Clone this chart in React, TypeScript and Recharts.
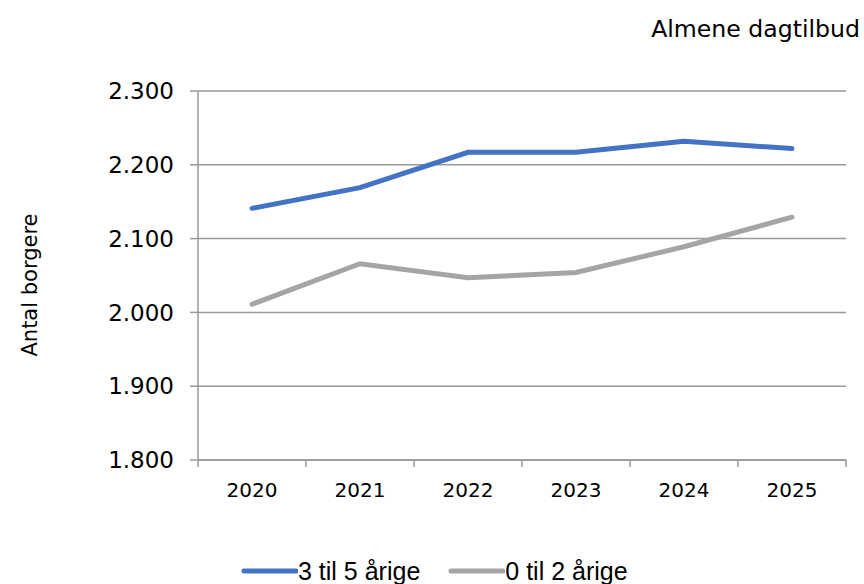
import React from 'react';
import { LineChart, Line, XAxis, YAxis, CartesianGrid } from 'recharts';

const years = ['2020', '2021', '2022', '2023', '2024', '2025'];
const age3to5 = [2141, 2169, 2217, 2217, 2232, 2222];
const age0to2 = [2011, 2066, 2047, 2054, 2089, 2129];
const yTicks = [1800, 1900, 2000, 2100, 2200, 2300];

const seriesNames = ['3 til 5 årige', '0 til 2 årige'];
const colors = ['#4472C4', '#A5A5A5'];

const CHART_W = 864;
const LEFT = 198;
const RIGHT = 18;
const halfBand = (CHART_W - LEFT - RIGHT) / years.length / 2;

// category index centred in its band: category i occupies [i, i+1]
const data = years.map((y, i) => ({ pos: i + 0.5, year: y, a: age3to5[i], b: age0to2[i] }));
const boundaryTicks = years.map((_, i) => i).concat([years.length]);

const fmt = (v: number) => {
  const s = String(v);
  return s.length > 3 ? s.slice(0, s.length - 3) + '.' + s.slice(s.length - 3) : s;
};

const YearTick = (props: any) => {
  const { x, y, payload } = props;
  const label = years[payload.value];
  if (!label) return null;
  return (
    <text x={x + halfBand} y={y} dy="0.71em" textAnchor="middle" fontFamily="DejaVu Sans, sans-serif" fontSize={20} fill="#000">
      {label}
    </text>
  );
};

export default function App() {
  return (
    <div style={{ position: 'absolute', left: 0, top: 0, width: 864, height: 584, background: '#fff' }}>
      <div style={{ position: 'absolute', right: 4, top: 15, fontFamily: 'DejaVu Sans, sans-serif', fontSize: 23.6, color: '#000', whiteSpace: 'nowrap' }}>
        Almene dagtilbud
      </div>
      <div style={{ position: 'absolute', left: 30, top: 285, transform: 'translate(-50%, -50%) rotate(-90deg)', fontFamily: 'DejaVu Sans, sans-serif', fontSize: 21, color: '#000', whiteSpace: 'nowrap' }}>
        Antal borgere
      </div>
      <LineChart width={CHART_W} height={584} data={data} margin={{ top: 91, right: RIGHT, bottom: 84, left: 0 }}>
        <CartesianGrid vertical={false} stroke="#999" strokeWidth={1.5} />
        <XAxis dataKey="pos" type="number" domain={[0, years.length]} ticks={boundaryTicks} interval={0}
          tick={<YearTick />} axisLine={{ stroke: '#999', strokeWidth: 1.5 }}
          tickLine={{ stroke: '#999', strokeWidth: 1.5 }} tickSize={7} tickMargin={16} height={40} />
        <YAxis domain={[1800, 2300]} ticks={yTicks} tickFormatter={fmt} width={LEFT}
          axisLine={{ stroke: '#999', strokeWidth: 1.5 }} tickLine={{ stroke: '#999', strokeWidth: 1.5 }} tickSize={8} tickMargin={16}
          tick={{ fontFamily: 'DejaVu Sans, sans-serif', fontSize: 23, fill: '#000' }} />
        <Line dataKey="a" name={seriesNames[0]} stroke={colors[0]} strokeWidth={5} dot={false} isAnimationActive={false} strokeLinecap="round" />
        <Line dataKey="b" name={seriesNames[1]} stroke={colors[1]} strokeWidth={5} dot={false} isAnimationActive={false} strokeLinecap="round" />
      </LineChart>
      <div style={{ position: 'absolute', left: 241, top: 556, display: 'flex', fontFamily: 'Liberation Sans, Arial, sans-serif', fontSize: 25, color: '#000', lineHeight: '30px' }}>
        {seriesNames.map((n, i) => (
          <div key={n} style={{ display: 'flex', alignItems: 'center', marginRight: i === 0 ? 28 : 0 }}>
            <svg width={57} height={10}>
              <line x1={3} y1={5} x2={55} y2={5} stroke={colors[i]} strokeWidth={5} strokeLinecap="round" />
            </svg>
            <span>{n}</span>
          </div>
        ))}
      </div>
    </div>
  );
}
